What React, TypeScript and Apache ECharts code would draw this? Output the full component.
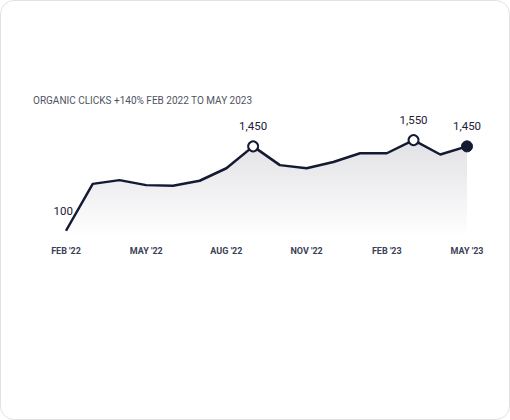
import React, { useEffect, useRef } from "react";
import * as echarts from "echarts";

const months = [
  "FEB '22", "MAR '22", "APR '22", "MAY '22", "JUN '22", "JUL '22", "AUG '22", "SEP '22",
  "OCT '22", "NOV '22", "DEC '22", "JAN '23", "FEB '23", "MAR '23", "APR '23", "MAY '23",
];
const clicks = [100, 850, 910, 830, 820, 900, 1100, 1450, 1150, 1100, 1200, 1340, 1340, 1550, 1320, 1450];
const hollowIdx = [7, 13];
const filledIdx = [15];
const labelIdx = [0, 7, 13, 15];
const titleText = "ORGANIC CLICKS +140% FEB 2022 TO MAY 2023";

const NAVY = "#141a33";
const FONT = "Roboto, 'Open Sans', sans-serif";

export default function App() {
  const ref = useRef<HTMLDivElement>(null);
  useEffect(() => {
    if (!ref.current) return;
    const chart = echarts.init(ref.current, undefined, { renderer: "svg" });
    const data = clicks.map((v, i) => {
      const item: any = { value: v, symbolSize: 0, label: { show: false } };
      if (hollowIdx.includes(i)) {
        item.symbolSize = 10;
        item.itemStyle = { color: "#ffffff", borderColor: NAVY, borderWidth: 2 };
      }
      if (filledIdx.includes(i)) {
        item.symbolSize = 11;
        item.itemStyle = { color: NAVY, borderColor: NAVY, borderWidth: 1 };
      }
      if (labelIdx.includes(i)) {
        item.label = {
          show: true,
          position: i === 0 ? "left" : "top",
          offset: i === 0 ? [15, -20] : [0, 0],
          distance: 8,
          formatter: (p: any) => Number(p.value).toLocaleString("en-US"),
          color: "#1b2138",
          fontSize: 11.5,
          fontFamily: FONT,
        };
      }
      return item;
    });
    chart.setOption({
      animation: false,
      title: {
        text: titleText,
        left: 33,
        top: 95,
        padding: 0,
        textStyle: { fontSize: 10, fontWeight: "normal", color: "#50535f", fontFamily: FONT },
      },
      grid: { left: 66, right: 43, top: 137, bottom: 183 },
      xAxis: {
        type: "category",
        data: months,
        boundaryGap: false,
        axisLine: { show: false },
        axisTick: { show: false },
        splitLine: { show: false },
        axisLabel: {
          interval: 2,
          margin: 9,
          color: "#3b4157",
          fontSize: 9,
          fontWeight: "bold",
          fontFamily: FONT,
        },
      },
      yAxis: {
        type: "value",
        min: 0,
        max: 1600,
        show: false,
        splitLine: { show: false },
      },
      series: [
        {
          type: "line",
          data,
          symbol: "circle",
          showAllSymbol: true,
          lineStyle: { color: NAVY, width: 2.5 },
          itemStyle: { color: NAVY },
          areaStyle: {
            color: new echarts.graphic.LinearGradient(0, 0, 0, 1, [
              { offset: 0, color: "rgba(205,206,212,0.85)" },
              { offset: 1, color: "rgba(255,255,255,0.9)" },
            ]),
          },
          z: 3,
        },
      ],
    });
    return () => chart.dispose();
  }, []);
  return (
    <div
      style={{
        position: "absolute",
        left: 0,
        top: 0,
        width: 510,
        height: 420,
        boxSizing: "border-box",
        border: "1px solid #e2e2e2",
        borderRadius: 14,
        background: "#fff",
        overflow: "hidden",
      }}
    >
      <div ref={ref} style={{ position: "absolute", left: -1, top: -1, width: 510, height: 420 }} />
    </div>
  );
}
